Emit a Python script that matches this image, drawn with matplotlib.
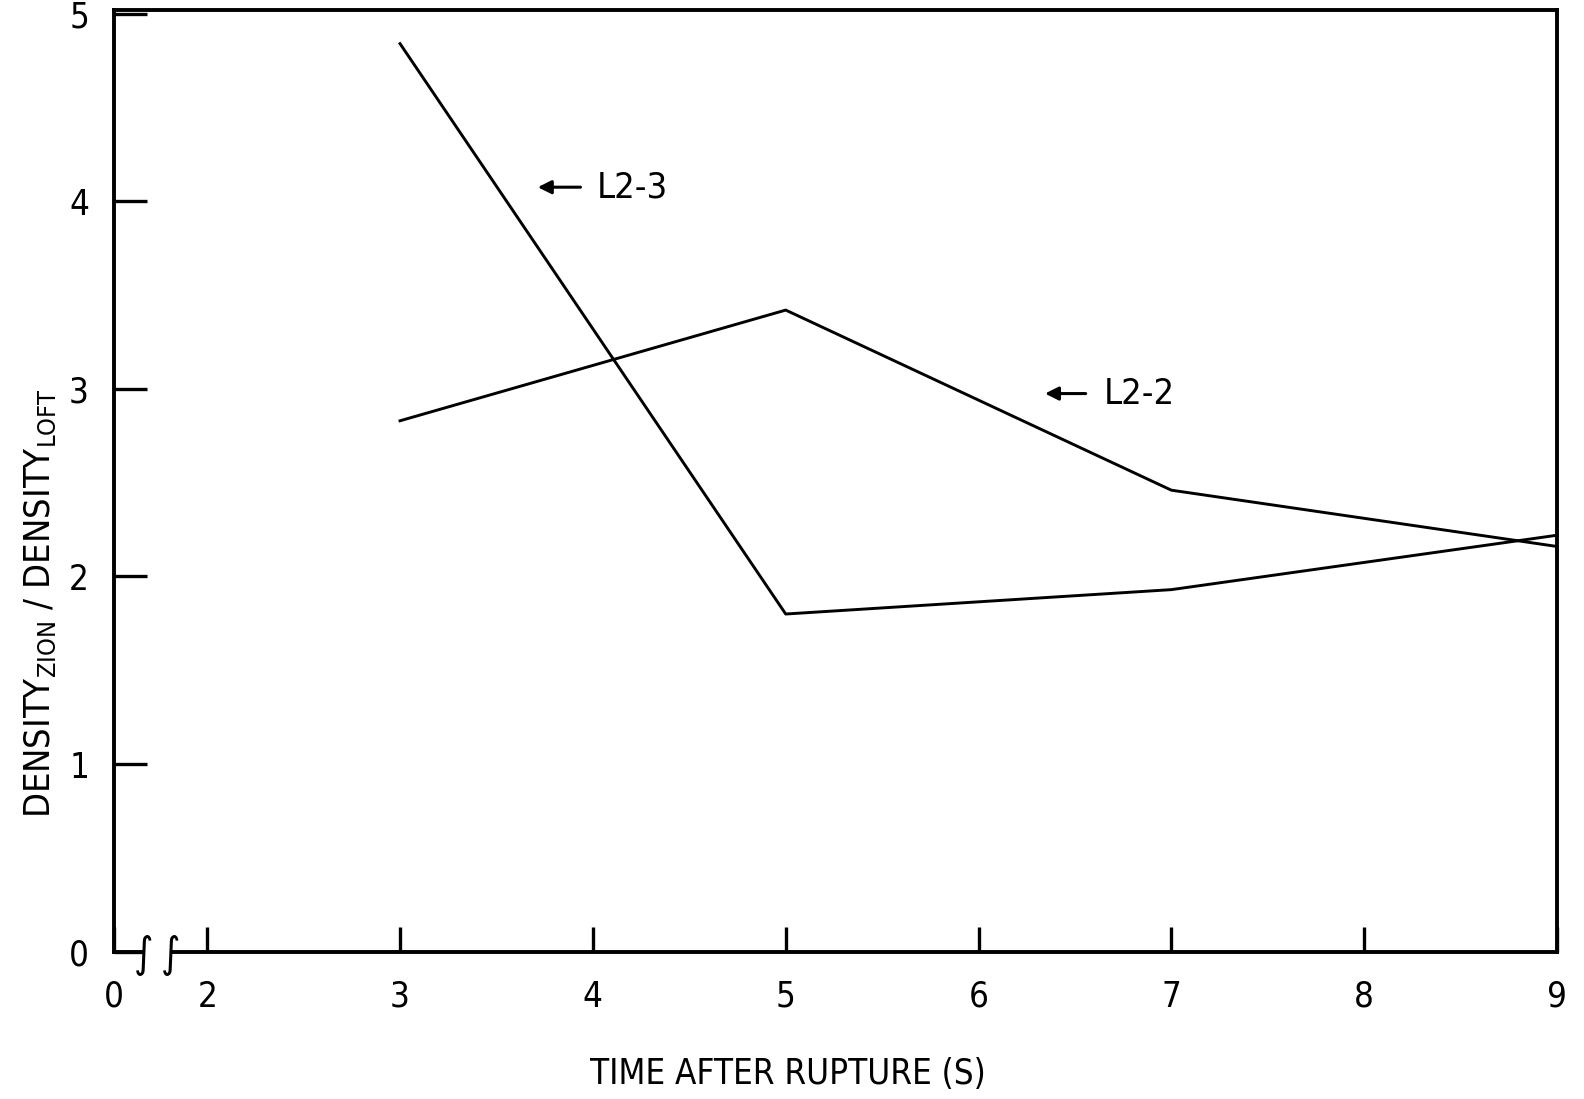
import matplotlib
matplotlib.use('Agg')
import matplotlib.pyplot as plt
from matplotlib.patches import Rectangle

# data
time_s = [3, 5, 7, 9]
l2_3 = [4.84, 1.80, 1.93, 2.22]
l2_2 = [2.83, 3.42, 2.46, 2.16]

x_ticks = [2, 3, 4, 5, 6, 7, 8, 9]
y_ticks = [0, 1, 2, 3, 4, 5]
x_zero = 1.517  # where the "0" of the broken axis sits

fam = 'DejaVu Sans'
plt.rcParams['font.family'] = [fam]
plt.rcParams['font.stretch'] = 'condensed'
plt.rcParams['mathtext.fontset'] = 'custom'
plt.rcParams['mathtext.rm'] = fam + ':stretch=condensed'

fig = plt.figure(figsize=(15.84, 10.99), dpi=100)
ax = fig.add_axes([0.072, 0.134, 0.911, 0.857])

ax.plot(time_s, l2_3, color='black', lw=2.1)
ax.plot(time_s, l2_2, color='black', lw=2.1)

ax.set_xlim(x_zero, 9)
ax.set_ylim(0, 5.02)

ax.set_xticks([x_zero] + x_ticks)
ax.set_xticklabels(['0'] + [str(t) for t in x_ticks])
ax.set_yticks(y_ticks)
ax.set_yticklabels([str(t) for t in y_ticks])
ax.tick_params(axis='x', direction='in', length=18, width=2.4, pad=20, labelsize=25)
ax.tick_params(axis='y', direction='in', length=24, width=2.4, pad=18, labelsize=25)
for s in ax.spines.values():
    s.set_linewidth(2.8)

# axis break between 0 and 2
ax.add_patch(Rectangle((1.68, -0.05), 0.12, 0.1, color='white', zorder=5,
                       clip_on=False))
for xb in (1.67, 1.81):
    ax.text(xb, -0.02, '∫', fontsize=30, ha='center', va='center', zorder=6,
            family='DejaVu Sans', clip_on=False)

# labels on curves
ax.annotate('', xy=(3.70, 4.075), xytext=(3.95, 4.075),
            arrowprops=dict(arrowstyle='-|>', color='black', lw=2.2, mutation_scale=20))
ax.text(4.02, 4.075, 'L2-3', fontsize=26, va='center', ha='left')
ax.annotate('', xy=(6.33, 2.975), xytext=(6.57, 2.975),
            arrowprops=dict(arrowstyle='-|>', color='black', lw=2.2, mutation_scale=20))
ax.text(6.65, 2.975, 'L2-2', fontsize=26, va='center', ha='left')

ax.set_xlabel('TIME AFTER RUPTURE (S)', fontsize=25)
ax.xaxis.set_label_coords(0.467, -0.112)
ax.set_ylabel(r'DENSITY$_{\mathregular{ZION}}$ / DENSITY$_{\mathregular{LOFT}}$', fontsize=26)
ax.yaxis.set_label_coords(-0.039, 0.37)

fig.savefig('out.png', dpi=100)
